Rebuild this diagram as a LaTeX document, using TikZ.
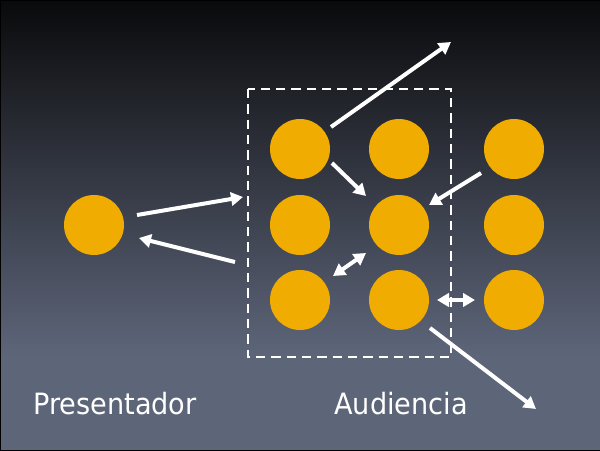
\documentclass[tikz,border=0pt]{standalone}
\usepackage{fontspec}
\setmainfont{DejaVu Sans}[FakeStretch=0.925]
\usetikzlibrary{arrows.meta}
\definecolor{bgtop}{HTML}{0A0A0C}
\definecolor{bgbot}{HTML}{5D6579}
\definecolor{dot}{HTML}{F0AC00}
\tikzset{
  person/.style={circle,fill=dot,minimum size=45pt,inner sep=0pt},
  flow/.style={white,line width=3pt,-{Triangle[length=9pt,width=10pt]}},
  flow2/.style={white,line width=3pt,{Triangle[length=9pt,width=10pt]}-{Triangle[length=9pt,width=10pt]}},
  lbl/.style={text=white,font=\fontsize{22}{26}\selectfont,anchor=base west,inner sep=0pt}
}
\begin{document}
\begin{tikzpicture}[x=0.75pt,y=-0.75pt]
\useasboundingbox (0,0) rectangle (600,450);
\shade[top color=bgtop,bottom color=bgbot] (0,0) rectangle (600,355);
\fill[bgbot] (0,354) rectangle (600,450);
\draw[black,line width=0.75pt] (0,0) rectangle (600,450);
% dashed group
\draw[white,line width=1.5pt,dash pattern=on 7pt off 4.5pt] (248,89) rectangle (451,357);
% people
\node[person] (p) at (94,225) {};
\node[person] (a11) at (300,149) {};
\node[person] (a12) at (399,149) {};
\node[person] (a13) at (514,149) {};
\node[person] (a21) at (300,225) {};
\node[person] (a22) at (399,225) {};
\node[person] (a23) at (514,225) {};
\node[person] (a31) at (300,300) {};
\node[person] (a32) at (399,300) {};
\node[person] (a33) at (514,300) {};
% coordinates
\coordinate (s1) at (331,127); \coordinate (e1) at (451,42);
\coordinate (s2) at (332,163); \coordinate (e2) at (366,196);
\coordinate (s3) at (481,173); \coordinate (e3) at (429,205);
\coordinate (s4) at (333,276); \coordinate (e4) at (366,253);
\coordinate (s5) at (437,300); \coordinate (e5) at (475,300);
\coordinate (s6) at (430,328); \coordinate (e6) at (536,409);
\coordinate (s7) at (137,215); \coordinate (e7) at (243,197);
\coordinate (s8) at (235,262); \coordinate (e8) at (139,238);
\draw[flow] (s1) -- (e1);
\draw[flow] (s2) -- (e2);
\draw[flow] (s3) -- (e3);
\draw[flow2] (s4) -- (e4);
\draw[flow2] (s5) -- (e5);
\draw[flow] (s6) -- (e6);
\draw[flow] (s7) -- (e7);
\draw[flow] (s8) -- (e8);
% labels
\node[lbl] (t1) at (33,414) {Presentador};
\node[lbl] (t2) at (334,414) {Audiencia};
\end{tikzpicture}
\end{document}
